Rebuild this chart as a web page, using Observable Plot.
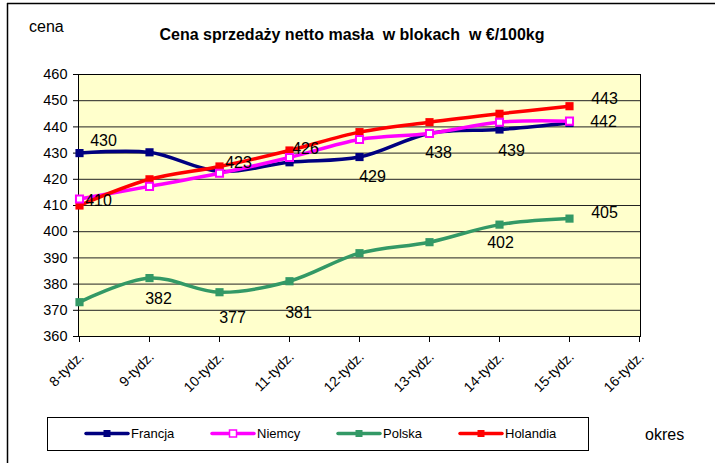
<!DOCTYPE html>
<html>
<head>
<meta charset="utf-8">
<script src="https://cdn.jsdelivr.net/npm/d3@7"></script>
<script src="https://cdn.jsdelivr.net/npm/@observablehq/plot@0.6"></script>
<style>
  html, body { margin: 0; padding: 0; background: #fff; }
  #chart { width: 715px; height: 463px; overflow: hidden; }
</style>
</head>
<body>
<div id="chart"></div>
<script>
// ---- data ----
const weeks = ["8-tydz.", "9-tydz.", "10-tydz.", "11-tydz.", "12-tydz.", "13-tydz.", "14-tydz.", "15-tydz.", "16-tydz."];
const seriesNames = ["Francja", "Niemcy", "Polska", "Holandia"];
const seriesColors = ["#000080", "#FF00FF", "#339966", "#FF0000"];
const francja  = [430, 430.3, 423, 426.5, 428.5, 437.5, 439, 441.5];
const niemcy   = [412.5, 417.3, 422.3, 428.3, 435.2, 437.5, 441.8, 442.2];
const polska   = [373.1, 382.3, 376.9, 381.1, 391.8, 396, 402.7, 405];
const holandia = [410, 420, 424.9, 431, 438, 441.8, 445, 447.9];
const yTicks = [360, 370, 380, 390, 400, 410, 420, 430, 440, 450, 460];

// data labels (text as shown), attached to a series point
const labelSeries = ["Francja", "Holandia", "Francja", "Francja", "Francja", "Francja", "Francja", "Francja", "Holandia",
                     "Polska", "Polska", "Polska", "Polska", "Polska"];
const labelWeek   = [0, 0, 2, 3, 4, 5, 6, 7, 7, 1, 2, 3, 6, 7];
const labelText   = ["430", "410", "423", "426", "429", "438", "439", "442", "443", "382", "377", "381", "402", "405"];
const labelDx     = [24, 19, 19, 16, 13, 9, 12, 34, 35, 9, 13, 9, 1, 35];
const labelDy     = [-12, -5, -9, -13, 20, 19, 21, -1, -7, 21, 26, 32, 18, -6];

// ---- build tables ----
const seriesValues = {Francja: francja, Niemcy: niemcy, Polska: polska, Holandia: holandia};
const rows = [];
for (const s of seriesNames) {
  seriesValues[s].forEach((v, i) => rows.push({series: s, week: weeks[i], value: v}));
}

const FONT = "'Liberation Sans', Arial, sans-serif";

const labelMarks = labelText.map((t, i) => Plot.text(
  [{week: weeks[labelWeek[i]], value: seriesValues[labelSeries[i]][labelWeek[i]], t}],
  {x: "week", y: "value", text: "t", dx: labelDx[i], dy: labelDy[i], fontSize: 16, fill: "#000"}
));

const svg = Plot.plot({
  width: 715,
  height: 463,
  marginLeft: 78,
  marginRight: 75,
  marginTop: 74,
  marginBottom: 127,
  style: {fontFamily: FONT, background: "#fff", overflow: "visible", color: "#000"},
  x: {type: "point", domain: weeks, padding: 0},
  y: {domain: [360, 460]},
  color: {domain: seriesNames, range: seriesColors},
  marks: [
    Plot.frame({fill: "#FFFFCC", stroke: null}),
    Plot.gridY(yTicks, {stroke: "#222", strokeOpacity: 1, strokeWidth: 1}),
    Plot.frame({stroke: "#000", strokeWidth: 1}),
    Plot.axisY(yTicks, {tickSize: 5, tickPadding: 6, fontSize: 14.5, label: null, stroke: "#000"}),
    Plot.axisX({tickSize: 6, tickFormat: () => "", label: null, stroke: "#000"}),
    Plot.text(weeks, {x: d => d, frameAnchor: "bottom", dx: 2, dy: 18, rotate: -45, textAnchor: "end",
                      lineAnchor: "middle", fontSize: 14, fill: "#000"}),
    Plot.line(rows, {x: "week", y: "value", z: "series", stroke: "series", strokeWidth: 3.5, curve: "catmull-rom"}),
    Plot.dot(rows.filter(d => d.series !== "Niemcy"), {x: "week", y: "value", symbol: "square", r: 4.6, fill: "series", stroke: "series", strokeWidth: 0}),
    Plot.dot(rows.filter(d => d.series === "Niemcy"), {x: "week", y: "value", symbol: "square", r: 4, fill: "#fff", stroke: "series", strokeWidth: 2}),
    ...labelMarks
  ]
});

// ---- annotations inside the svg ----
const g = d3.select(svg);

// outer frame (top & left edges)
g.append("line").attr("x1", 7).attr("x2", 715).attr("y1", 3.5).attr("y2", 3.5).attr("stroke", "#000").attr("stroke-width", 1.5);
g.append("line").attr("x1", 7.5).attr("x2", 7.5).attr("y1", 3).attr("y2", 463).attr("stroke", "#000").attr("stroke-width", 1.5);

g.append("text").attr("x", 352).attr("y", 40).attr("text-anchor", "middle")
  .attr("font-family", FONT).attr("font-size", 16).attr("font-weight", "bold")
  .style("white-space", "pre")
  .text("Cena sprzedaży netto masła  w blokach  w €/100kg");
g.append("text").attr("x", 29).attr("y", 32).attr("text-anchor", "start").attr("font-family", FONT).attr("font-size", 16).text("cena");
g.append("text").attr("x", 645).attr("y", 440).attr("text-anchor", "start").attr("font-family", FONT).attr("font-size", 16).text("okres");

// legend
const lg = g.append("g");
lg.append("rect").attr("x", 47.5).attr("y", 417.5).attr("width", 541).attr("height", 33)
  .attr("fill", "#fff").attr("stroke", "#000").attr("stroke-width", 1);
const legendX = [86, 212, 338, 460];
seriesNames.forEach((s, i) => {
  const x0 = legendX[i], yy = 433.5, c = seriesColors[i];
  lg.append("line").attr("x1", x0).attr("x2", x0 + 42).attr("y1", yy).attr("y2", yy)
    .attr("stroke", c).attr("stroke-width", 3.5).attr("stroke-linecap", "round");
  lg.append("rect").attr("x", x0 + 21 - 3.5).attr("y", yy - 3.5).attr("width", 7).attr("height", 7)
    .attr("fill", s === "Niemcy" ? "#fff" : c).attr("stroke", c).attr("stroke-width", s === "Niemcy" ? 1.5 : 0);
  lg.append("text").attr("x", x0 + 45).attr("y", yy + 4.5).attr("text-anchor", "start")
    .attr("font-family", FONT).attr("font-size", 13).attr("fill", "#000").text(s);
});

document.getElementById("chart").appendChild(svg);
</script>
</body>
</html>
